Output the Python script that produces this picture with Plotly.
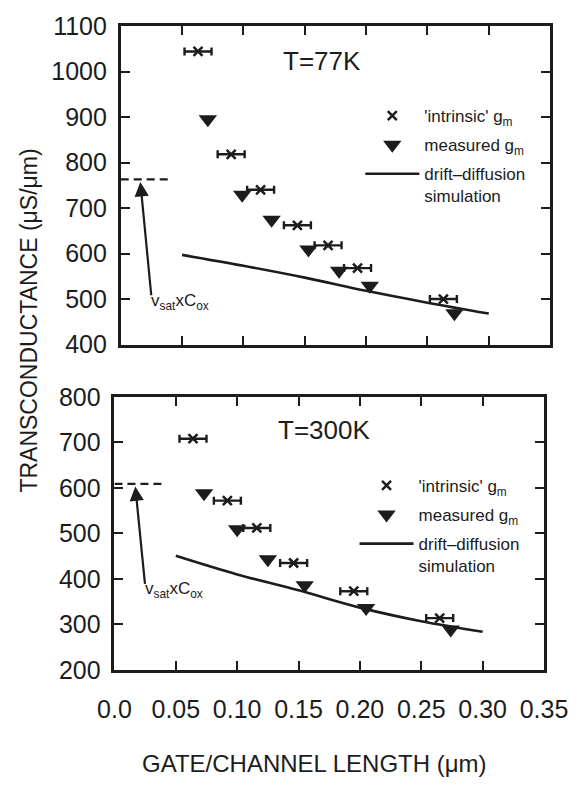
import plotly.graph_objects as go

# ---------------- data ----------------
# T = 77 K panel
x77_intr = [0.063, 0.090, 0.114, 0.144, 0.169, 0.193, 0.263]
y77_intr = [1044, 818, 740, 662, 618, 568, 500]
x77_meas = [0.071, 0.099, 0.123, 0.153, 0.178, 0.203, 0.272]
y77_meas = [895, 729, 674, 609, 562, 529, 469]
x77_sim = [0.05, 0.10, 0.15, 0.20, 0.25, 0.30]
y77_sim = [597, 573, 547, 518, 492, 468]
vsat77 = 763          # dashed v_sat x C_ox level
arrow77 = [0.025, 505, 0.016, 757]   # tail x, tail y, tip x, tip y

# T = 300 K panel
x300_intr = [0.064, 0.092, 0.116, 0.146, 0.195, 0.265]
y300_intr = [708, 572, 512, 435, 373, 314]
x300_meas = [0.073, 0.100, 0.125, 0.155, 0.205, 0.274]
y300_meas = [588, 509, 443, 386, 336, 289]
x300_sim = [0.05, 0.10, 0.15, 0.20, 0.25, 0.30]
y300_sim = [451, 410, 375, 337, 307, 284]
vsat300 = 609
arrow300 = [0.025, 386, 0.017, 603]

x_err = 0.011
dash_x = [0.0, 0.039]

x_tickvals = [0.0, 0.05, 0.10, 0.15, 0.20, 0.25, 0.30, 0.35]
x_ticktext = ["0.0", "0.05", "0.10", "0.15", "0.20", "0.25", "0.30", "0.35"]
y77_ticks = [400, 500, 600, 700, 800, 900, 1000, 1100]
y300_ticks = [200, 300, 400, 500, 600, 700, 800]

names = ["'intrinsic' g<sub>m</sub>", "measured g<sub>m</sub>",
         "drift\u2013diffusion<br>simulation"]

INK = "#1c1c1c"
FONT = "Liberation Sans, Arial, sans-serif"

fig = go.Figure()

def add_panel(xa, ya, leg, xi, yi, xm, ym, xs, ys):
    fig.add_trace(go.Scatter(
        x=xi, y=yi, mode="markers", name=names[0], legend=leg,
        xaxis=xa, yaxis=ya, legendgroup=leg + "a",
        marker=dict(symbol="x-thin", size=9, line=dict(width=2.5, color=INK), color=INK),
        error_x=dict(type="constant", value=x_err, color=INK, thickness=2.4, width=4),
    ))
    fig.add_trace(go.Scatter(
        x=xm, y=ym, mode="markers", name=names[1], legend=leg,
        xaxis=xa, yaxis=ya, legendgroup=leg + "b",
        marker=dict(symbol="triangle-down", size=16, color=INK),
    ))
    fig.add_trace(go.Scatter(
        x=xs, y=ys, mode="lines", name=names[2], legend=leg,
        xaxis=xa, yaxis=ya, legendgroup=leg + "c",
        line=dict(color=INK, width=2.6, shape="spline"),
    ))

add_panel("x", "y", "legend", x77_intr, y77_intr, x77_meas, y77_meas, x77_sim, y77_sim)
add_panel("x2", "y2", "legend2", x300_intr, y300_intr, x300_meas, y300_meas, x300_sim, y300_sim)

axis_common = dict(
    showline=True, linewidth=2.6, linecolor=INK, mirror="ticks",
    ticks="inside", ticklen=9, tickwidth=2, tickcolor=INK,
    showgrid=False, zeroline=False, ticklabeloverflow="allow",
    tickfont=dict(family=FONT, size=25, color=INK),
)

legend_common = dict(xanchor="left", yanchor="top", bgcolor="rgba(0,0,0,0)",
                     itemwidth=54, tracegroupgap=4, valign="top",
                     font=dict(family=FONT, size=17, color=INK))

fig.update_layout(
    width=587, height=786,
    margin=dict(l=114, r=17, t=17, b=116),
    paper_bgcolor="white", plot_bgcolor="white",
    font=dict(family=FONT, color=INK),
    xaxis=dict(domain=[0.0154, 0.998], range=[0, 0.35], anchor="y",
               tickvals=x_tickvals, ticktext=x_ticktext, showticklabels=False,
               **axis_common),
    yaxis=dict(domain=[0.5054, 1.0], range=[400, 1100], anchor="x",
               tickvals=y77_ticks, ticklabelstandoff=6, **axis_common),
    xaxis2=dict(domain=[0.001, 0.984], range=[0, 0.35], anchor="y2",
                tickvals=x_tickvals, ticktext=x_ticktext, ticklabelstandoff=15,
                **axis_common),
    yaxis2=dict(domain=[0.0, 0.4242], range=[200, 800], anchor="x2",
                tickvals=y300_ticks, ticklabelstandoff=6, **axis_common),
    legend=dict(x=(371 - 114) / 456, y=(670 - 90) / 653, **legend_common),
    legend2=dict(x=(365 - 114) / 456, y=(670 - 465) / 653, **legend_common),
    showlegend=True,
)

# dashed v_sat x C_ox levels
fig.add_shape(type="line", xref="x", yref="y", x0=dash_x[0], x1=dash_x[1], y0=vsat77, y1=vsat77,
              line=dict(color=INK, width=2.2, dash="8px,5px"))
fig.add_shape(type="line", xref="x2", yref="y2", x0=dash_x[0], x1=dash_x[1], y0=vsat300, y1=vsat300,
              line=dict(color=INK, width=2.2, dash="8px,5px"))

label = "v<sub>sat</sub>xC<sub>ox</sub>"
for (xr, yr, arr) in [("x", "y", arrow77), ("x2", "y2", arrow300)]:
    fig.add_annotation(xref=xr, yref=yr, axref=xr, ayref=yr,
                       x=arr[2], y=arr[3], ax=arr[0], ay=arr[1], text="",
                       showarrow=True, arrowhead=2, arrowsize=1.3, arrowwidth=2.2,
                       arrowcolor=INK, standoff=0)
    fig.add_annotation(xref=xr, yref=yr, x=arr[0], y=arr[1], text=label,
                       showarrow=False, xanchor="left", yanchor="top", xshift=-2, yshift=8,
                       font=dict(family=FONT, size=17, color=INK))

# temperature labels
fig.add_annotation(xref="x", yref="y", x=0.164, y=1023, text="T=77K", showarrow=False,
                   xanchor="center", yanchor="middle",
                   font=dict(family=FONT, size=26, color=INK))
fig.add_annotation(xref="x2", yref="y2", x=0.171, y=728, text="T=300K", showarrow=False,
                   xanchor="center", yanchor="middle",
                   font=dict(family=FONT, size=26, color=INK))

# axis titles
fig.add_annotation(xref="paper", yref="paper", x=(25 - 114) / 456, y=(670 - 316) / 653,
                   text="TRANSCONDUCTANCE (\u03bcS/\u03bcm)", textangle=-90, showarrow=False,
                   xanchor="center", yanchor="middle",
                   font=dict(family=FONT, size=23, color=INK))
fig.add_annotation(xref="paper", yref="paper", x=(323 - 114) / 456, y=(670 - 765) / 653,
                   text="GATE/CHANNEL LENGTH (\u03bcm)", showarrow=False,
                   xanchor="center", yanchor="middle",
                   font=dict(family=FONT, size=24, color=INK))

fig.write_html("out.html")
